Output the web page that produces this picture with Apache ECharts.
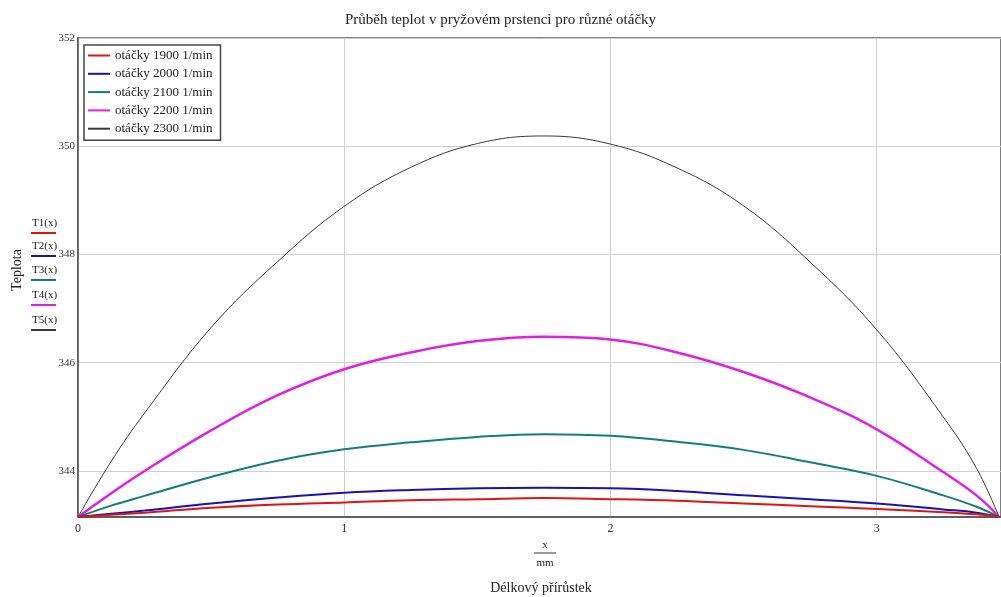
<!DOCTYPE html>
<html>
<head>
<meta charset="utf-8">
<script src="https://cdn.jsdelivr.net/npm/echarts@6/dist/echarts.min.js"></script>
<style>
html,body{margin:0;padding:0;background:#fff;}
#c{width:1001px;height:597px;}
</style>
</head>
<body>
<div id="c"></div>
<script>
// x positions (mm)
var xs = [0, 0.125, 0.25, 0.5, 0.75, 1.0, 1.25, 1.5, 1.75, 2.0, 2.25, 2.5, 2.75, 3.0, 3.25, 3.375, 3.46];
// temperatures (K)
var T1 = [343.15, 343.19, 343.23, 343.32, 343.38, 343.42, 343.46, 343.48, 343.50, 343.48, 343.45, 343.40, 343.35, 343.30, 343.24, 343.20, 343.15];
var T2 = [343.15, 343.21, 343.27, 343.40, 343.51, 343.60, 343.65, 343.68, 343.69, 343.68, 343.63, 343.55, 343.48, 343.40, 343.29, 343.23, 343.15];
var T3 = [343.15, 343.36, 343.54, 343.89, 344.19, 344.40, 344.53, 344.63, 344.68, 344.65, 344.54, 344.39, 344.16, 343.91, 343.55, 343.34, 343.15];
var T4 = [343.15, 343.59, 344.00, 344.75, 345.40, 345.88, 346.19, 346.40, 346.48, 346.43, 346.19, 345.83, 345.36, 344.77, 343.98, 343.55, 343.15];
var T5 = [343.15, 344.18, 345.07, 346.65, 347.87, 348.89, 349.61, 350.05, 350.19, 350.04, 349.60, 348.90, 347.86, 346.61, 345.00, 344.05, 343.15];
var names = ['otáčky 1900 1/min', 'otáčky 2000 1/min', 'otáčky 2100 1/min', 'otáčky 2200 1/min', 'otáčky 2300 1/min'];
var traceLabels = ['T1(x)', 'T2(x)', 'T3(x)', 'T4(x)', 'T5(x)'];
var yTicks = [344, 346, 348, 350, 352];
var xTicks = [0, 1, 2, 3];

var colors = ['#dd1414', '#1414b4', '#13806e', '#e020e0', '#3a3a3a'];
var widths = [2, 2, 2, 2.5, 1];
var allT = [T1, T2, T3, T4, T5];
var FONT = '"Liberation Serif", "DejaVu Serif", serif';

function pairs(ys) { return xs.map(function (x, i) { return [x, ys[i]]; }); }

var series = allT.map(function (ys, k) {
  return {
    name: names[k], type: 'line', data: pairs(ys), smooth: 0.4,
    symbol: 'none', showSymbol: false,
    lineStyle: { color: colors[k], width: widths[k] },
    itemStyle: { color: colors[k] },
    z: 10 - k
  };
});

var graphics = [];
// y axis name
graphics.push({ type: 'text', x: 17, y: 270, rotation: Math.PI / 2, style: { text: 'Teplota', font: '14px ' + FONT, fill: '#222', align: 'center', verticalAlign: 'middle' } });
// trace labels with underlines
var ty = [218, 241, 265, 290, 315];
traceLabels.forEach(function (t, k) {
  graphics.push({ type: 'text', left: 32, top: ty[k], style: { text: t, font: '11px ' + FONT, fill: '#222' } });
  graphics.push({ type: 'line', shape: { x1: 31, y1: ty[k] + 15, x2: 56, y2: ty[k] + 15 }, style: { stroke: colors[k], lineWidth: 2 } });
});
// x axis name (fraction)
graphics.push({ type: 'text', x: 545, y: 545, style: { text: 'x', font: '11px ' + FONT, fill: '#222', align: 'center', verticalAlign: 'middle' } });
graphics.push({ type: 'line', shape: { x1: 534, y1: 553, x2: 556, y2: 553 }, style: { stroke: '#333', lineWidth: 1 } });
graphics.push({ type: 'text', x: 545, y: 563, style: { text: 'mm', font: '11px ' + FONT, fill: '#222', align: 'center', verticalAlign: 'middle' } });
graphics.push({ type: 'text', x: 541, y: 588, style: { text: 'Délkový přírůstek', font: '14px ' + FONT, fill: '#222', align: 'center', verticalAlign: 'middle' } });

var chart = echarts.init(document.getElementById('c'), null, { renderer: 'canvas' });
chart.setOption({
  backgroundColor: '#fff',
  animation: false,
  title: {
    text: 'Průběh teplot v pryžovém prstenci pro různé otáčky',
    left: 'center', top: 8,
    textStyle: { fontFamily: FONT, fontSize: 15, fontWeight: 'normal', color: '#222' }
  },
  grid: { left: 78, top: 38, right: 0, bottom: 80, show: true, borderColor: '#555', borderWidth: 1.5 },
  legend: {
    orient: 'vertical', left: 84, top: 45,
    icon: 'rect', itemWidth: 22, itemHeight: 2, itemGap: 5.3,
    padding: [4, 8, 5, 4],
    backgroundColor: '#fff', borderColor: '#444', borderWidth: 1.5, borderRadius: 0,
    textStyle: { fontFamily: FONT, fontSize: 13, color: '#222' },
    data: names
  },
  xAxis: {
    type: 'value', min: 0, max: 3.467,
    axisLine: { show: true, lineStyle: { color: '#555', width: 1.5 } },
    axisTick: { show: false, customValues: xTicks },
    axisLabel: { customValues: xTicks, fontFamily: FONT, fontSize: 12, color: '#333', margin: 6 },
    splitLine: { show: true, lineStyle: { color: '#cfcfcf', width: 1 } }
  },
  yAxis: {
    type: 'value', min: 343.15, max: 352,
    axisLine: { show: true, lineStyle: { color: '#555', width: 1.5 } },
    axisTick: { show: false, customValues: yTicks },
    axisLabel: { customValues: yTicks, fontFamily: FONT, fontSize: 11, color: '#333', margin: 3 },
    splitLine: { show: true, lineStyle: { color: '#cfcfcf', width: 1 } }
  },
  graphic: graphics,
  series: series
});
</script>
</body>
</html>
